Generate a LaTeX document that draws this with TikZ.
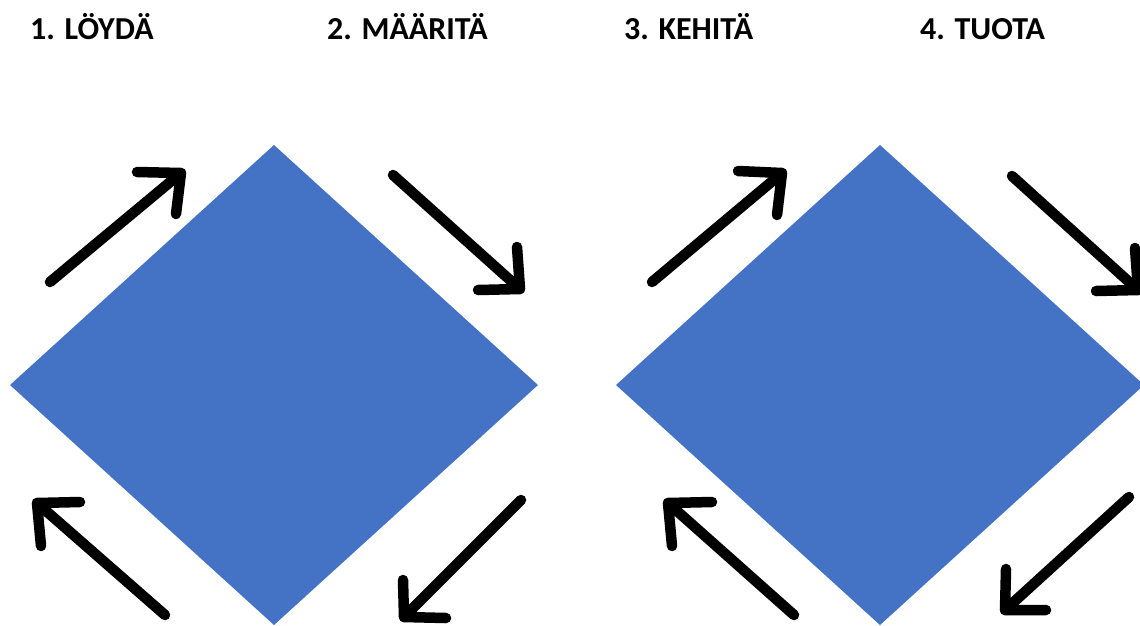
\documentclass[tikz,border=0pt]{standalone}
\usepackage{fontspec}
\setmainfont{Carlito}
\definecolor{diamondblue}{HTML}{4472C4}
\begin{document}
\begin{tikzpicture}[x=1pt,y=-1pt,
  phase/.style={anchor=base west,inner sep=0pt,font=\bfseries\fontsize{32}{38}\selectfont},
  flowarrow/.style={draw=black,line width=10.5pt,line cap=round,line join=round}]
\useasboundingbox (0,0) rectangle (1140,625);
\fill[white] (0,0) rectangle (1140,625);

% phase titles
\node[phase] (t1) at (30,39)  {1. LÖYDÄ};
\node[phase] (t2) at (327,39) {2. MÄÄRITÄ};
\node[phase] (t3) at (624,39) {3. KEHITÄ};
\node[phase] (t4) at (920,39) {4. TUOTA};

% the two diamonds
\begin{scope}
\clip (0,0) rectangle (1140,625);
\fill[diamondblue] (10,385) -- (274,145) -- (538,385) -- (274,625) -- cycle;
\fill[diamondblue] (616,385) -- (880,145) -- (1144,385) -- (880,625) -- cycle;

% left diamond arrows
\coordinate (la1t) at (50,282);  \coordinate (la1h) at (181,173);
\coordinate (la1a) at (137,172); \coordinate (la1b) at (176,214);
\coordinate (la2t) at (393,175); \coordinate (la2h) at (520,289);
\coordinate (la2a) at (517,247); \coordinate (la2b) at (478,290);
\coordinate (la3t) at (165,615); \coordinate (la3h) at (37,503);
\coordinate (la3a) at (80,502);  \coordinate (la3b) at (41,546);
\coordinate (la4t) at (521,500); \coordinate (la4h) at (404,617);
\coordinate (la4a) at (403,580); \coordinate (la4b) at (446,618);

% right diamond arrows
\coordinate (ra1t) at (652,282);  \coordinate (ra1h) at (782,173);
\coordinate (ra1a) at (738,171);  \coordinate (ra1b) at (777,215);
\coordinate (ra2t) at (1012,176); \coordinate (ra2h) at (1138,290);
\coordinate (ra2a) at (1135,248); \coordinate (ra2b) at (1096,291);
\coordinate (ra3t) at (794,615);  \coordinate (ra3h) at (668,503);
\coordinate (ra3a) at (712,502);  \coordinate (ra3b) at (672,546);
\coordinate (ra4t) at (1129,497); \coordinate (ra4h) at (1005,610);
\coordinate (ra4a) at (1006,569); \coordinate (ra4b) at (1046,610);

\foreach \a in {la1,la2,la3,la4,ra1,ra2,ra3,ra4}{
  \draw[flowarrow] (\a t) -- (\a h);
  \draw[flowarrow] (\a a) -- (\a h) -- (\a b);
}
\end{scope}
\end{tikzpicture}
\end{document}
